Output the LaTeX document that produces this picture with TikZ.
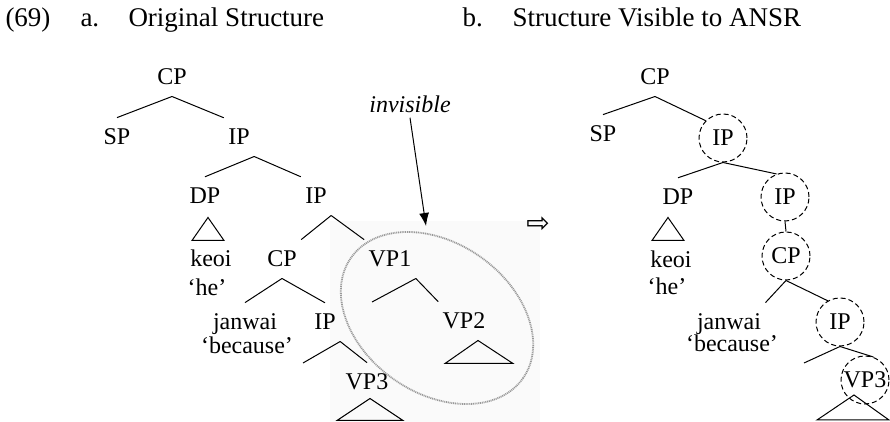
\documentclass[tikz,border=0pt]{standalone}
\usepackage{fontspec}
\setmainfont{Liberation Serif}
\newfontfamily\symfont{DejaVu Sans}
\usetikzlibrary{shapes.geometric,arrows.meta}

\begin{document}
\begin{tikzpicture}[x=0.5pt, y=-0.5pt, line width=0.5pt,
        lab/.style={anchor=base, inner xsep=2pt, inner ysep=5.5pt, text depth=0pt, font=\fontsize{12}{14}\selectfont},
        word/.style={anchor=base, inner sep=0pt, font=\fontsize{12}{14}\selectfont},
        ring/.style={circle, draw, dash pattern=on 2.5pt off 1.5pt, minimum size=24pt, inner sep=0pt, text depth=0pt, font=\fontsize{12}{14}\selectfont},
        head/.style={anchor=base west, inner sep=0pt, font=\fontsize{13.5}{16}\selectfont}]
        \useasboundingbox (0,0) rectangle (890,422);

        % headings
        \node[head] (num) at (5,27) {(69)};
        \node[head] (ta) at (80,27) {a.};
        \node[head] (tatxt) at (128,27) {Original Structure};
        \node[head] (tb) at (462,27) {b.};
        \node[head] (tbtxt) at (512,27) {Structure Visible to ANSR};

        % scanned patch and the invisible part
        \fill[black!2] (330,221) rectangle (540,422);
        \node[ellipse, draw=black!40, line width=0.9pt, dash pattern=on 0.5pt off 0.4pt,
            minimum width=105pt, minimum height=75pt, inner sep=0pt, rotate=-35] (zone) at (437,318) {};
        \node[word, inner sep=2pt, font=\fontsize{12}{14}\selectfont\itshape] (inv) at (410,113) {invisible};
        \coordinate (tip) at (426,226);
        \draw[-{Latex[length=6.5pt,width=5pt]}] (inv.south) -- (tip);

        % tree a
        \node[lab] (cpa) at (172,85) {CP};
        \node[lab] (spa) at (117,145) {SP};
        \node[lab] (ipa) at (239,145) {IP};
        \node[lab] (dpa) at (205,204) {DP};
        \node[lab] (ipb) at (316,204) {IP};
        \node[word] (keoia) at (211,267) {keoi};
        \node[word] (hea) at (207,296) {‘he’};
        \node[lab] (cpb) at (282,267) {CP};
        \node[lab] (vpa) at (390,267) {VP1};
        \node[lab] (jana) at (245,330) {janwai};
        \node[word] (beca) at (247,354) {‘because’};
        \node[lab] (ipc) at (325,330) {IP};
        \node[lab] (vpb) at (464,329) {VP2};
        \node[lab] (vpc) at (367,390) {VP3};
        \coordinate (vpal) at (372,302);
        \coordinate (ipcl) at (303,363);

        \draw
        (cpa.south) -- (spa.north)
        (cpa.south) -- (ipa.north west)
        (ipa.south east) -- (dpa.north)
        (ipa.south east) -- (ipb.north west)
        (ipb.south east) -- (cpb.north east)
        (ipb.south east) -- (vpa.north west)
        (cpb.south) -- (jana.north)
        (cpb.south) -- (ipc.north)
        (vpa.south east) -- (vpal)
        (vpa.south east) -- (vpb.north west)
        (ipc.south east) -- (ipcl)
        (ipc.south east) -- (vpc.north)
        ;
        \draw ([shift={(3,2)}]dpa.south) -- ++(-16,23) -- ++(32,0) -- cycle;
        \draw ([shift={(14,0)}]vpb.south) -- ++(-33,23) -- ++(68,0) -- cycle;
        \draw ([shift={(3,-3)}]vpc.south) -- ++(-33,22) -- ++(66,0) -- cycle;

        \node[inner sep=0pt, font=\symfont\fontsize{14}{16}\selectfont] (goto) at (538,225) {⇨};

        % tree b
        \node[lab] (cpd) at (655,85) {CP};
        \node[lab] (spb) at (603,142) {SP};
        \node[ring] (ipd) at (723,138) {IP};
        \node[lab] (dpc) at (678,205) {DP};
        \node[ring] (ipe) at (785,197) {IP};
        \node[word] (keoib) at (671,268) {keoi};
        \node[word] (heb) at (667,295) {‘he’};
        \node[ring] (cpe) at (786,256) {CP};
        \node[lab] (janb) at (729,330) {janwai};
        \node[word] (becb) at (732,352) {‘because’};
        \node[ring] (ipf) at (840,322) {IP};
        \node[ring] (vpd) at (865,380) {VP3};
        \coordinate (ipfl) at (804,363);

        \draw
        (cpd.south) -- (spb.north)
        (cpd.south) -- (ipd.north west)
        (ipd.south) -- (dpc.north)
        (ipd.south) -- (ipe.110)
        (ipe.south) -- (cpe.north)
        (cpe.south) -- (janb.north east)
        (cpe.south) -- (ipf.120)
        (ipf.south) -- (ipfl)
        (ipf.south) -- (vpd.70)
        ;
        \draw ([shift={(-10,1)}]dpc.south) -- ++(-16,23) -- ++(32,0) -- cycle;
        \draw ([shift={(-11,15)}]vpd.center) -- ++(-37,25) -- ++(72,0) -- cycle;
    \end{tikzpicture}
\end{document}
